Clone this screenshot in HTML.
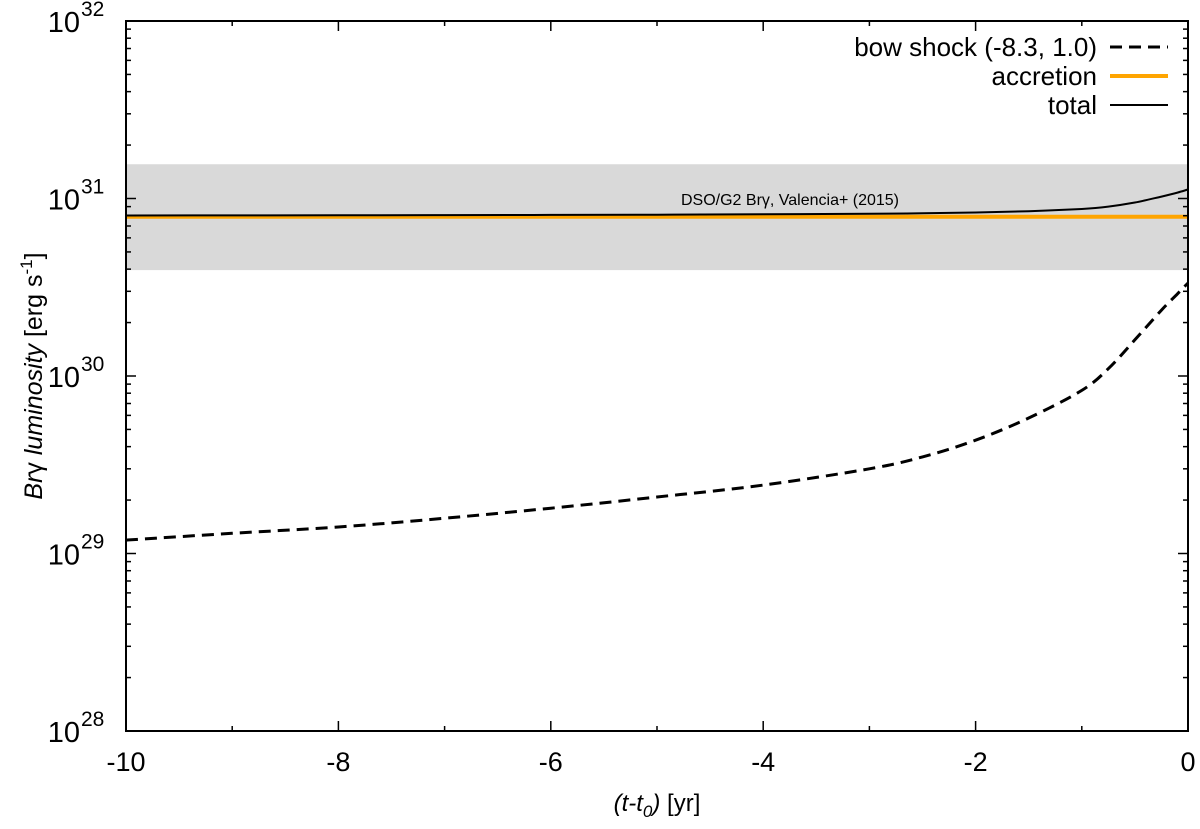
<!DOCTYPE html>
<html><head><meta charset="utf-8"><style>
body{margin:0;background:#fff;}
text{font-family:"Liberation Sans",Arial,sans-serif;fill:#000;}
</style></head><body>
<svg id="c" width="1200" height="824" xmlns="http://www.w3.org/2000/svg"></svg>
<script>
const xs=[-10,-9,-8,-7,-6,-5,-4,-3,-2.5,-2,-1.5,-1,-0.75,-0.5,-0.25,-0.1,0];
const bowShock=[1.19e29,1.3e29,1.41e29,1.58e29,1.8e29,2.08e29,2.43e29,3.0e29,3.5e29,4.35e29,5.8e29,8.3e29,1.1e30,1.6e30,2.35e30,2.9e30,3.34e30];
const accretion=[7.9e30,7.9e30,7.9e30,7.9e30,7.9e30,7.9e30,7.9e30,7.9e30,7.9e30,7.9e30,7.9e30,7.9e30,7.9e30,7.9e30,7.9e30,7.9e30,7.9e30];
const bandRange=[3.95e30,1.56e31];
const xTicks=[-10,-8,-6,-4,-2,0];
const yDecades=[28,29,30,31,32];
const L=126,R=1188,T=21,B=731;
const X=v=>L+(v+10)/10*(R-L);
const Y=v=>B-(Math.log10(v)-28)/4*(B-T);
const svg=document.getElementById('c');
const NS='http://www.w3.org/2000/svg';
function mk(t,a,txt){const e=document.createElementNS(NS,t);for(const k in a)e.setAttribute(k,a[k]);if(txt!==undefined)e.textContent=txt;svg.appendChild(e);return e;}
let e;
e=mk('rect',{x:L,y:Y(bandRange[1]),width:R-L,height:Y(bandRange[0])-Y(bandRange[1]),fill:'#d9d9d9'});


e=mk('text',{x:790,y:205,'font-size':16,'text-anchor':'middle'},'DSO/G2 Brγ, Valencia+ (2015)');


function path(vals){
  const p=xs.map((x,i)=>[X(x),Y(vals[i])]);
  let d='M'+p[0][0].toFixed(1)+','+p[0][1].toFixed(1);
  for(let i=0;i<p.length-1;i++){
    const p0=p[Math.max(0,i-1)],p1=p[i],p2=p[i+1],p3=p[Math.min(p.length-1,i+2)];
    const c1=[p1[0]+(p2[0]-p0[0])/6,p1[1]+(p2[1]-p0[1])/6];
    const c2=[p2[0]-(p3[0]-p1[0])/6,p2[1]-(p3[1]-p1[1])/6];
    d+='C'+c1[0].toFixed(1)+','+c1[1].toFixed(1)+' '+c2[0].toFixed(1)+','+c2[1].toFixed(1)+' '+p2[0].toFixed(1)+','+p2[1].toFixed(1);
  }
  return d;
}
e=mk('path',{d:path(accretion),stroke:'#ffa500',fill:'none','stroke-width':4});


const total=xs.map((x,i)=>accretion[i]+bowShock[i]);
e=mk('path',{d:path(total),stroke:'#000',fill:'none','stroke-width':2});


e=mk('path',{d:path(bowShock),stroke:'#000',fill:'none','stroke-width':3,'stroke-dasharray':'12,7'});


e=mk('rect',{x:L,y:T,width:R-L,height:B-T,fill:'none',stroke:'#000','stroke-width':2});


yDecades.forEach(d=>{
  const y=Y(Math.pow(10,d));
  if(d<32){
    mk('line',{x1:L,x2:L+10,y1:y,y2:y,stroke:'#000','stroke-width':1.5});
    mk('line',{x1:R,x2:R-10,y1:y,y2:y,stroke:'#000','stroke-width':1.5});
    for(let m=2;m<10;m++){const ym=Y(m*Math.pow(10,d));
      mk('line',{x1:L,x2:L+5,y1:ym,y2:ym,stroke:'#000','stroke-width':1.5});
      mk('line',{x1:R,x2:R-5,y1:ym,y2:ym,stroke:'#000','stroke-width':1.5});}
  }
  e=mk('text',{x:80,y:y+11,'font-size':29,'text-anchor':'end'},'10');
  
  
  e=mk('text',{x:81,y:y-5,'font-size':21},String(d));
  
  
});
xTicks.forEach(v=>{
  const x=X(v);
  mk('line',{x1:x,x2:x,y1:B,y2:B-10,stroke:'#000','stroke-width':1.5});
  mk('line',{x1:x,x2:x,y1:T,y2:T+10,stroke:'#000','stroke-width':1.5});
  e=mk('text',{x:x,y:771,'font-size':27,'text-anchor':'middle'},String(v));
  
  
});
for(let v=-9;v<0;v+=2){const x=X(v);
  mk('line',{x1:x,x2:x,y1:B,y2:B-5,stroke:'#000','stroke-width':1.5});
  mk('line',{x1:x,x2:x,y1:T,y2:T+5,stroke:'#000','stroke-width':1.5});}
</script>
<svg style="position:absolute;left:0;top:0" width="1200" height="824">
<text x="657" y="811" font-size="24" text-anchor="middle"><tspan font-style="italic">(t-t</tspan><tspan font-style="italic" font-size="17" dy="6">0</tspan><tspan font-style="italic" dy="-6">)</tspan> [yr]</text>
<text transform="translate(42,376) rotate(-90)" font-size="25" text-anchor="middle"><tspan font-style="italic">Br</tspan>γ <tspan font-style="italic">luminosity</tspan> [erg s<tspan font-size="17" dy="-10">-1</tspan><tspan dy="10">]</tspan></text>
<g>
<text x="1097" y="56" font-size="26" text-anchor="end">bow shock (-8.3, 1.0)</text>
<line x1="1110" x2="1168" y1="47" y2="47" stroke="#000" stroke-width="3" stroke-dasharray="12,7"/>
<text x="1097" y="85" font-size="26" text-anchor="end">accretion</text>
<line x1="1110" x2="1168" y1="76" y2="76" stroke="#ffa500" stroke-width="4"/>
<text x="1097" y="114" font-size="26" text-anchor="end">total</text>
<line x1="1110" x2="1168" y1="105" y2="105" stroke="#000" stroke-width="2"/>
</g>
</svg>
</body></html>
